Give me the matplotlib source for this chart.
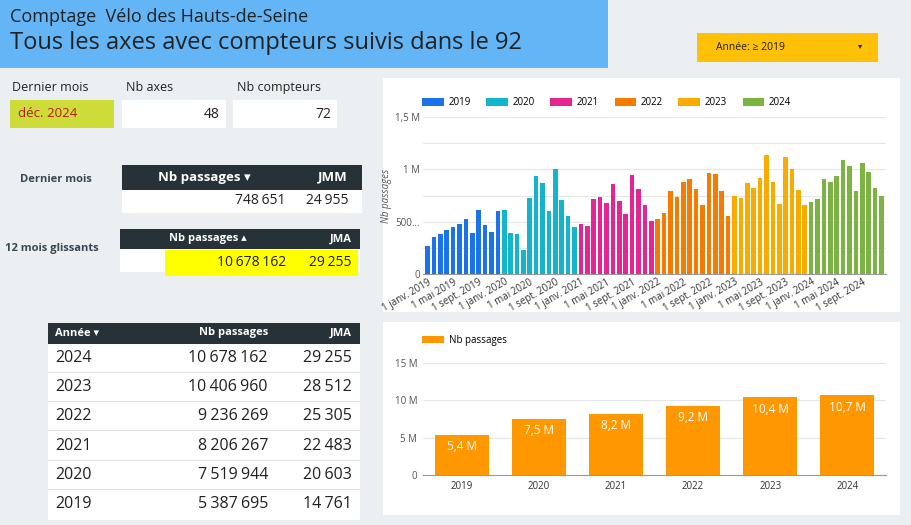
import matplotlib
matplotlib.use("Agg")
import matplotlib.pyplot as plt
from matplotlib.patches import Rectangle
import numpy as np

plt.rcParams['font.family'] = ['Open Sans', 'DejaVu Sans']

W, H = 912, 525
years = [2019, 2020, 2021, 2022, 2023, 2024]
year_colors = ["#1a73e8", "#12b5cb", "#e52592", "#f57c00", "#f9ab00", "#7cb342"]
monthly = {  # millions of passages, Jan..Dec
    2019: [0.27, 0.35, 0.38, 0.42, 0.45, 0.48, 0.53, 0.39, 0.61, 0.47, 0.40, 0.60],
    2020: [0.61, 0.39, 0.38, 0.23, 0.73, 0.94, 0.87, 0.60, 1.00, 0.71, 0.55, 0.45],
    2021: [0.48, 0.46, 0.72, 0.74, 0.68, 0.86, 0.70, 0.57, 0.95, 0.81, 0.66, 0.51],
    2022: [0.53, 0.58, 0.79, 0.74, 0.88, 0.91, 0.81, 0.66, 0.965, 0.96, 0.79, 0.55],
    2023: [0.75, 0.73, 0.87, 0.82, 0.92, 1.14, 0.88, 0.67, 1.12, 1.00, 0.80, 0.66],
    2024: [0.69, 0.72, 0.91, 0.88, 0.94, 1.09, 1.03, 0.79, 1.06, 0.97, 0.82, 0.75],
}
month_ticks = ["janv.", "mai", "sept."]
annual = [5387695, 7519944, 8206267, 9236269, 10406960, 10678162]
annual_lbl = ["5,4 M", "7,5 M", "8,2 M", "9,2 M", "10,4 M", "10,7 M"]
jma = [14761, 20603, 22483, 25305, 28512, 29255]

NB = "\u202f"
def fmt(n):
    return f"{n:,}".replace(",", NB)

fig = plt.figure(figsize=(W / 100, H / 100), dpi=100)
fig.patch.set_facecolor("#eceff1")

def box(x0, y0, x1, y1, color, z=-10):
    fig.patches.append(Rectangle((x0 / W, 1 - y1 / H), (x1 - x0) / W, (y1 - y0) / H,
                                 transform=fig.transFigure, facecolor=color,
                                 edgecolor="none", zorder=z))

def txt(x, y, s, size=9, color="#212121", ha="left", weight="normal", **kw):
    fig.text(x / W, 1 - y / H, s, fontsize=size, color=color, ha=ha, va="center",
             weight=weight, **kw)

# header
box(0, 0, 608, 68, "#64b5f6")
txt(10, 17, "Comptage  Vélo des Hauts-de-Seine", size=13)
txt(10, 43, "Tous les axes avec compteurs suivis dans le 92", size=17)
box(697, 33, 878, 62, "#ffc107")
txt(716, 48, "Année: \u2265 2019", size=7.5)
txt(858, 47, "▾", size=6)

# KPI cards
txt(12, 88, "Dernier mois", size=9)
box(10, 100, 114, 128, "#cddc39")
txt(18, 114, "déc. 2024", size=9.5, color="#b71c1c")
txt(126, 88, "Nb axes", size=9)
box(122, 100, 226, 128, "white")
txt(220, 115, "48", size=10, ha="right")
txt(237, 88, "Nb compteurs", size=9)
box(233, 100, 337, 128, "white")
txt(331, 115, "72", size=10, ha="right")

# last month table
txt(20, 180, "Dernier mois", size=8, weight="bold", color="#37474f")
box(122, 165, 362, 190, "#263238")
txt(204, 177, "Nb passages ▾", size=9.5, weight="bold", color="white", ha="center")
txt(348, 177, "JMM", size=9.5, weight="bold", color="white", ha="right")
box(122, 190, 362, 213, "white")
txt(286, 201, fmt(748651), size=10, ha="right")
txt(348, 201, fmt(24955), size=10, ha="right")

# rolling 12 months
txt(5, 249, "12 mois glissants", size=8, weight="bold", color="#37474f")
box(120, 229, 360, 249, "#263238")
txt(208, 239, "Nb passages ▴", size=8, weight="bold", color="white", ha="center")
txt(352, 239, "JMA", size=8, weight="bold", color="white", ha="right")
box(120, 249, 360, 272, "white")
box(165, 250, 358, 276, "#ffff00", z=-9)
txt(286, 262, fmt(10678162), size=10, ha="right")
txt(352, 262, fmt(29255), size=10, ha="right")

# annual table
box(48, 323, 360, 344, "#263238")
txt(55, 333, "Année ▾", size=8, weight="bold", color="white")
txt(268, 333, "Nb passages", size=8, weight="bold", color="white", ha="right")
txt(352, 333, "JMA", size=8, weight="bold", color="white", ha="right")
box(48, 344, 360, 520, "white")
for i, k in enumerate(range(len(years) - 1, -1, -1)):
    yc = 358 + i * 29.2
    txt(55, yc, str(years[k]), size=11.5)
    txt(268, yc, fmt(annual[k]), size=11.5, ha="right")
    txt(352, yc, fmt(jma[k]), size=11.5, ha="right")
    if i < 5:
        box(48, yc + 14, 360, yc + 15, "#e0e0e0", z=-9)

# monthly chart
box(383, 78, 900, 312, "white")
ax = fig.add_axes([423 / W, 1 - 274 / H, (886 - 423) / W, (274 - 117) / H])
ax.set_facecolor("none")
pos = 0
ticks, tlabels = [], []
for yr, c in zip(years, year_colors):
    vals = monthly[yr]
    xs = np.arange(pos, pos + len(vals))
    ax.bar(xs, vals, width=0.72, color=c, label=str(yr), zorder=3)
    for m, name in zip([0, 4, 8], month_ticks):
        ticks.append(pos + m)
        tlabels.append(f"1 {name} {yr}")
    pos += len(vals)
ax.set_xlim(-0.7, pos - 0.3)
ax.set_ylim(0, 1.5)
ax.set_yticks([0, 0.25, 0.5, 0.75, 1, 1.25, 1.5])
ax.set_yticklabels(["0", "", "500…", "", "1 M", "", "1,5 M"], fontsize=7, color="#555")
ax.set_xticks(ticks)
ax.set_xticklabels(tlabels, rotation=30, ha="right", fontsize=7, color="#333",
                   rotation_mode="anchor")
ax.set_ylabel("Nb passages", fontsize=7, style="italic", color="#555", labelpad=2)
ax.grid(axis="y", color="#e6e6e6", lw=0.8, zorder=0)
ax.tick_params(length=0, pad=2)
for s in ax.spines.values():
    s.set_visible(False)
ax.spines["bottom"].set_visible(True)
ax.spines["bottom"].set_color("#999")
ax.legend(loc="lower left", bbox_to_anchor=(-0.01, 1.03), ncol=6, frameon=False,
          fontsize=7, handlelength=2.2, handleheight=0.8, columnspacing=1.6,
          handletextpad=0.5, borderaxespad=0)

# annual chart
box(383, 322, 900, 515, "white")
ax2 = fig.add_axes([423 / W, 1 - 475 / H, (886 - 423) / W, (475 - 363) / H])
ax2.set_facecolor("none")
xs = np.arange(len(years))
ax2.bar(xs, np.array(annual) / 1e6, width=0.7, color="#ff9800", label="Nb passages", zorder=3)
for x, v, l in zip(xs, annual, annual_lbl):
    ax2.text(x, v / 1e6 - 1.6, l, ha="center", va="center", color="white", fontsize=8.5,
             zorder=4)
ax2.set_xlim(-0.5, len(years) - 0.5)
ax2.set_ylim(0, 15)
ax2.set_yticks([0, 5, 10, 15])
ax2.set_yticklabels(["0", "5 M", "10 M", "15 M"], fontsize=7, color="#555")
ax2.set_xticks(xs)
ax2.set_xticklabels([str(y) for y in years], fontsize=7, color="#333")
ax2.grid(axis="y", color="#e6e6e6", lw=0.8, zorder=0)
ax2.tick_params(length=0, pad=4)
for s in ax2.spines.values():
    s.set_visible(False)
ax2.spines["bottom"].set_visible(True)
ax2.spines["bottom"].set_color("#999")
ax2.legend(loc="lower left", bbox_to_anchor=(-0.01, 1.12), frameon=False, fontsize=7,
           handlelength=2.2, handleheight=0.8, handletextpad=0.5, borderaxespad=0)

fig.savefig("out.png", dpi=100)
